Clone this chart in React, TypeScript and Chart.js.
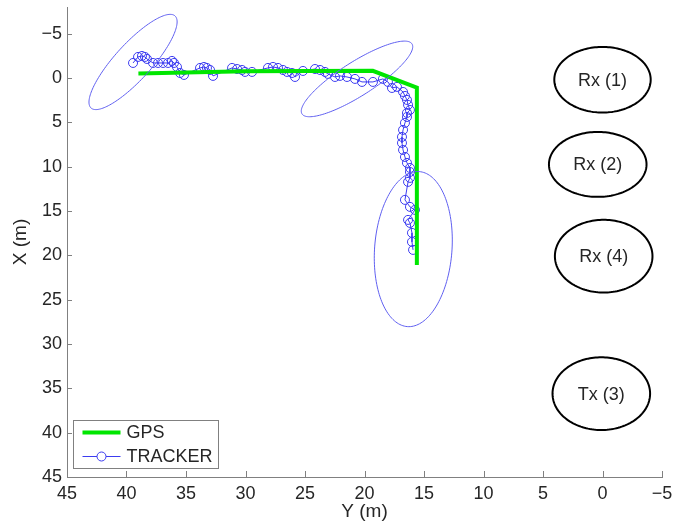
import React, { useEffect, useRef } from 'react';
import { Chart, registerables } from 'chart.js';

Chart.register(...registerables);

// Horizontal axis is "Y (m)" (reversed), vertical axis is "X (m)" (reversed)
const H_TICKS = [45, 40, 35, 30, 25, 20, 15, 10, 5, 0, -5];
const V_TICKS = [-5, 0, 5, 10, 15, 20, 25, 30, 35, 40, 45];

const GPS_Y = [39.0, 30.0, 19.3, 15.6, 15.6];
const GPS_X = [-0.5, -0.75, -0.8, 1.1, 21.1];

const TRACK_Y = [
  39.45, 39.03, 38.7, 38.45, 38.28, 37.77, 37.35, 36.93, 36.51, 36.18, 36.01, 35.76, 35.5, 35.17,
  33.82, 33.49, 33.24, 32.98, 32.73, 31.13, 30.71, 30.29, 30.04, 29.45, 28.11, 27.69, 27.27, 26.85,
  26.51, 26.09, 25.84, 25.17, 24.16, 23.74, 23.32, 23.07, 22.48, 22.06, 21.47, 20.8, 20.21, 19.29,
  18.45, 18.03, 17.69, 17.27, 16.76, 16.6, 16.43, 16.34, 16.18, 16.43, 16.43, 16.6, 16.76, 16.85,
  16.85, 16.76, 16.6, 16.43, 16.18, 16.18, 16.18, 16.34, 16.6, 16.18, 15.76, 16.34, 16.18, 16.01,
  16.01, 15.92,
];
const TRACK_X = [
  -1.69, -2.37, -2.48, -2.37, -2.14, -1.69, -1.69, -1.69, -1.69, -1.92, -1.69, -1.24, -0.56, -0.34,
  -1.13, -1.24, -1.13, -0.9, -0.23, -1.13, -1.01, -0.9, -0.68, -0.68, -1.13, -1.24, -1.13, -0.9,
  -0.68, -0.56, -0.11, -0.79, -1.01, -0.9, -0.68, -0.45, -0.11, -0.23, -0.11, 0.11, 0.45, 0.45,
  0.11, 0.45, 1.13, 1.01, 1.58, 2.03, 2.48, 3.04, 3.61, 3.95, 4.4, 5.07, 5.86, 6.65,
  7.33, 8.12, 8.91, 9.58, 10.15, 10.6, 11.27, 11.72, 13.75, 14.54, 14.88, 16.01, 16.35, 17.47,
  18.49, 19.39,
];

// Error ellipses of the tracker: centre (Y, X) and two conjugate semi-axes (dY, dX)
const ERR_CENTER = [[39.45, -1.8], [20.63, 0.11], [15.9, 19.3]];
const ERR_AXIS_U = [[-3.53, -5.19], [-4.62, -3.95], [-0.5, -8.74]];
const ERR_AXIS_V = [[-1.12, 1.38], [-0.77, 1.61], [-3.24, 0.34]];

// Receivers / transmitter
const NODE_LABELS = ['Rx (1)', 'Rx (2)', 'Rx (4)', 'Tx (3)'];
const NODE_Y = [0.0, 0.4, -0.1, 0.1];
const NODE_X = [0.2, 9.75, 20.1, 35.6];
const NODE_RY = [4.05, 4.1, 4.1, 4.1];
const NODE_RX = [3.7, 3.66, 4.1, 4.1];

const FONT = "'Liberation Sans', Arial, Helvetica, sans-serif";
const AXIS_COLOR = '#808080';
const TEXT_COLOR = '#262626';
const GPS_COLOR = '#00e600';
const TRACK_COLOR = 'rgb(60,60,240)';
const ELL_COLOR = 'rgb(95,95,240)';

const overlay = {
  id: 'overlay',
  afterDatasetsDraw(chart: any) {
    const ctx = chart.ctx as CanvasRenderingContext2D;
    const xs = chart.scales.x;
    const ys = chart.scales.y;
    const ca = chart.chartArea;
    ctx.save();

    // inward tick marks
    ctx.strokeStyle = AXIS_COLOR;
    ctx.lineWidth = 1;
    ctx.beginPath();
    H_TICKS.forEach((v) => {
      const p = Math.round(xs.getPixelForValue(v)) + 0.5;
      ctx.moveTo(p, ca.bottom);
      ctx.lineTo(p, ca.bottom - 6);
    });
    V_TICKS.forEach((v) => {
      const p = Math.round(ys.getPixelForValue(v)) + 0.5;
      ctx.moveTo(ca.left, p);
      ctx.lineTo(ca.left + 5, p);
    });
    ctx.stroke();

    const ellipse = (cy: number, cx: number, uy: number, ux: number, vy: number, vx: number) => {
      ctx.beginPath();
      const n = 160;
      for (let i = 0; i <= n; i++) {
        const t = (i / n) * Math.PI * 2;
        const Y = cy + uy * Math.cos(t) + vy * Math.sin(t);
        const X = cx + ux * Math.cos(t) + vx * Math.sin(t);
        const px = xs.getPixelForValue(Y);
        const py = ys.getPixelForValue(X);
        if (i === 0) ctx.moveTo(px, py);
        else ctx.lineTo(px, py);
      }
      ctx.closePath();
      ctx.stroke();
    };

    // tracker error ellipses
    ctx.strokeStyle = ELL_COLOR;
    ctx.lineWidth = 1;
    ERR_CENTER.forEach((c, i) => {
      ellipse(c[0], c[1], ERR_AXIS_U[i][0], ERR_AXIS_U[i][1], ERR_AXIS_V[i][0], ERR_AXIS_V[i][1]);
    });

    // nodes
    ctx.strokeStyle = '#000';
    ctx.lineWidth = 2;
    ctx.fillStyle = TEXT_COLOR;
    ctx.font = `18px ${FONT}`;
    ctx.textAlign = 'center';
    ctx.textBaseline = 'middle';
    NODE_LABELS.forEach((lab, i) => {
      ellipse(NODE_Y[i], NODE_X[i], NODE_RY[i], 0, 0, NODE_RX[i]);
      ctx.fillText(lab, xs.getPixelForValue(NODE_Y[i]), ys.getPixelForValue(NODE_X[i]) + 1);
    });

    // legend (lower-left inside axes)
    const bx = ca.left + 6.5;
    const by = ca.bottom - 56.5;
    const bw = 145;
    const bh = 48;
    ctx.fillStyle = '#fff';
    ctx.fillRect(bx, by, bw, bh);
    ctx.strokeStyle = AXIS_COLOR;
    ctx.lineWidth = 1;
    ctx.strokeRect(bx, by, bw, bh);

    const r1 = by + 12;
    const r2 = by + 36;
    ctx.strokeStyle = GPS_COLOR;
    ctx.lineWidth = 4;
    ctx.beginPath();
    ctx.moveTo(bx + 9, r1);
    ctx.lineTo(bx + 47, r1);
    ctx.stroke();

    ctx.strokeStyle = TRACK_COLOR;
    ctx.lineWidth = 1;
    ctx.beginPath();
    ctx.moveTo(bx + 9, r2);
    ctx.lineTo(bx + 47, r2);
    ctx.stroke();
    ctx.beginPath();
    ctx.fillStyle = '#fff';
    ctx.arc(bx + 28, r2, 4.5, 0, Math.PI * 2);
    ctx.fill();
    ctx.stroke();

    ctx.fillStyle = TEXT_COLOR;
    ctx.font = `18px ${FONT}`;
    ctx.textAlign = 'left';
    ctx.textBaseline = 'middle';
    ctx.fillText('GPS', bx + 53, r1 + 1);
    ctx.fillText('TRACKER', bx + 53, r2 + 1);

    ctx.restore();
  },
};

const fmt = (v: number) => String(v).replace('-', '\u2212');

export default function App() {
  const ref = useRef<HTMLCanvasElement | null>(null);

  useEffect(() => {
    if (!ref.current) return;
    const chart = new Chart(ref.current, {
      type: 'scatter',
      data: {
        datasets: [
          {
            label: 'GPS',
            data: GPS_Y.map((y, i) => ({ x: y, y: GPS_X[i] })),
            showLine: true,
            borderColor: GPS_COLOR,
            backgroundColor: GPS_COLOR,
            borderWidth: 4,
            pointRadius: 0,
            pointHoverRadius: 0,
            tension: 0,
          },
          {
            label: 'TRACKER',
            data: TRACK_Y.map((y, i) => ({ x: y, y: TRACK_X[i] })),
            showLine: true,
            borderColor: TRACK_COLOR,
            backgroundColor: 'rgba(0,0,0,0)',
            borderWidth: 1,
            pointRadius: 4.5,
            pointBorderWidth: 1,
            pointBorderColor: TRACK_COLOR,
            pointBackgroundColor: 'rgba(0,0,0,0)',
            tension: 0,
          },
        ],
      },
      options: {
        responsive: false,
        animation: false,
        devicePixelRatio: 1,
        layout: { padding: { top: 7, right: 19, left: 0, bottom: 0 } },
        plugins: { legend: { display: false }, tooltip: { enabled: false } },
        scales: {
          x: {
            type: 'linear',
            reverse: true,
            min: -5,
            max: 45,
            afterFit: (s: any) => {
              s.height = 47;
              s.paddingLeft = 0;
              s.paddingRight = 0;
            },
            afterBuildTicks: (s: any) => {
              s.ticks = H_TICKS.map((v) => ({ value: v }));
            },
            grid: { display: false, drawTicks: false },
            border: { display: true, color: AXIS_COLOR, width: 1 },
            ticks: {
              padding: 6,
              color: TEXT_COLOR,
              font: { family: FONT, size: 18 },
              maxRotation: 0,
              autoSkip: false,
              callback: (v: any) => fmt(Number(v)),
            },
            title: {
              display: true,
              text: 'Y (m)',
              color: TEXT_COLOR,
              font: { family: FONT, size: 19 },
              padding: { top: 0, bottom: 1 },
            },
          },
          y: {
            type: 'linear',
            reverse: true,
            min: -8,
            max: 45,
            afterFit: (s: any) => {
              s.width = 67;
              s.paddingTop = 0;
              s.paddingBottom = 0;
            },
            afterBuildTicks: (s: any) => {
              s.ticks = V_TICKS.map((v) => ({ value: v }));
            },
            grid: { display: false, drawTicks: false },
            border: { display: true, color: AXIS_COLOR, width: 1 },
            ticks: {
              padding: 5,
              color: TEXT_COLOR,
              font: { family: FONT, size: 18 },
              autoSkip: false,
              callback: (v: any) => fmt(Number(v)),
            },
            title: {
              display: true,
              text: 'X (m)',
              color: TEXT_COLOR,
              font: { family: FONT, size: 19 },
              padding: { top: 9, bottom: 0 },
            },
          },
        },
      },
      plugins: [overlay],
    } as any);
    return () => chart.destroy();
  }, []);

  return (
    <div style={{ position: 'fixed', left: 0, top: 0, width: 681, height: 524, background: '#fff' }}>
      <canvas ref={ref} width={681} height={524} style={{ display: 'block', width: 681, height: 524 }} />
    </div>
  );
}
